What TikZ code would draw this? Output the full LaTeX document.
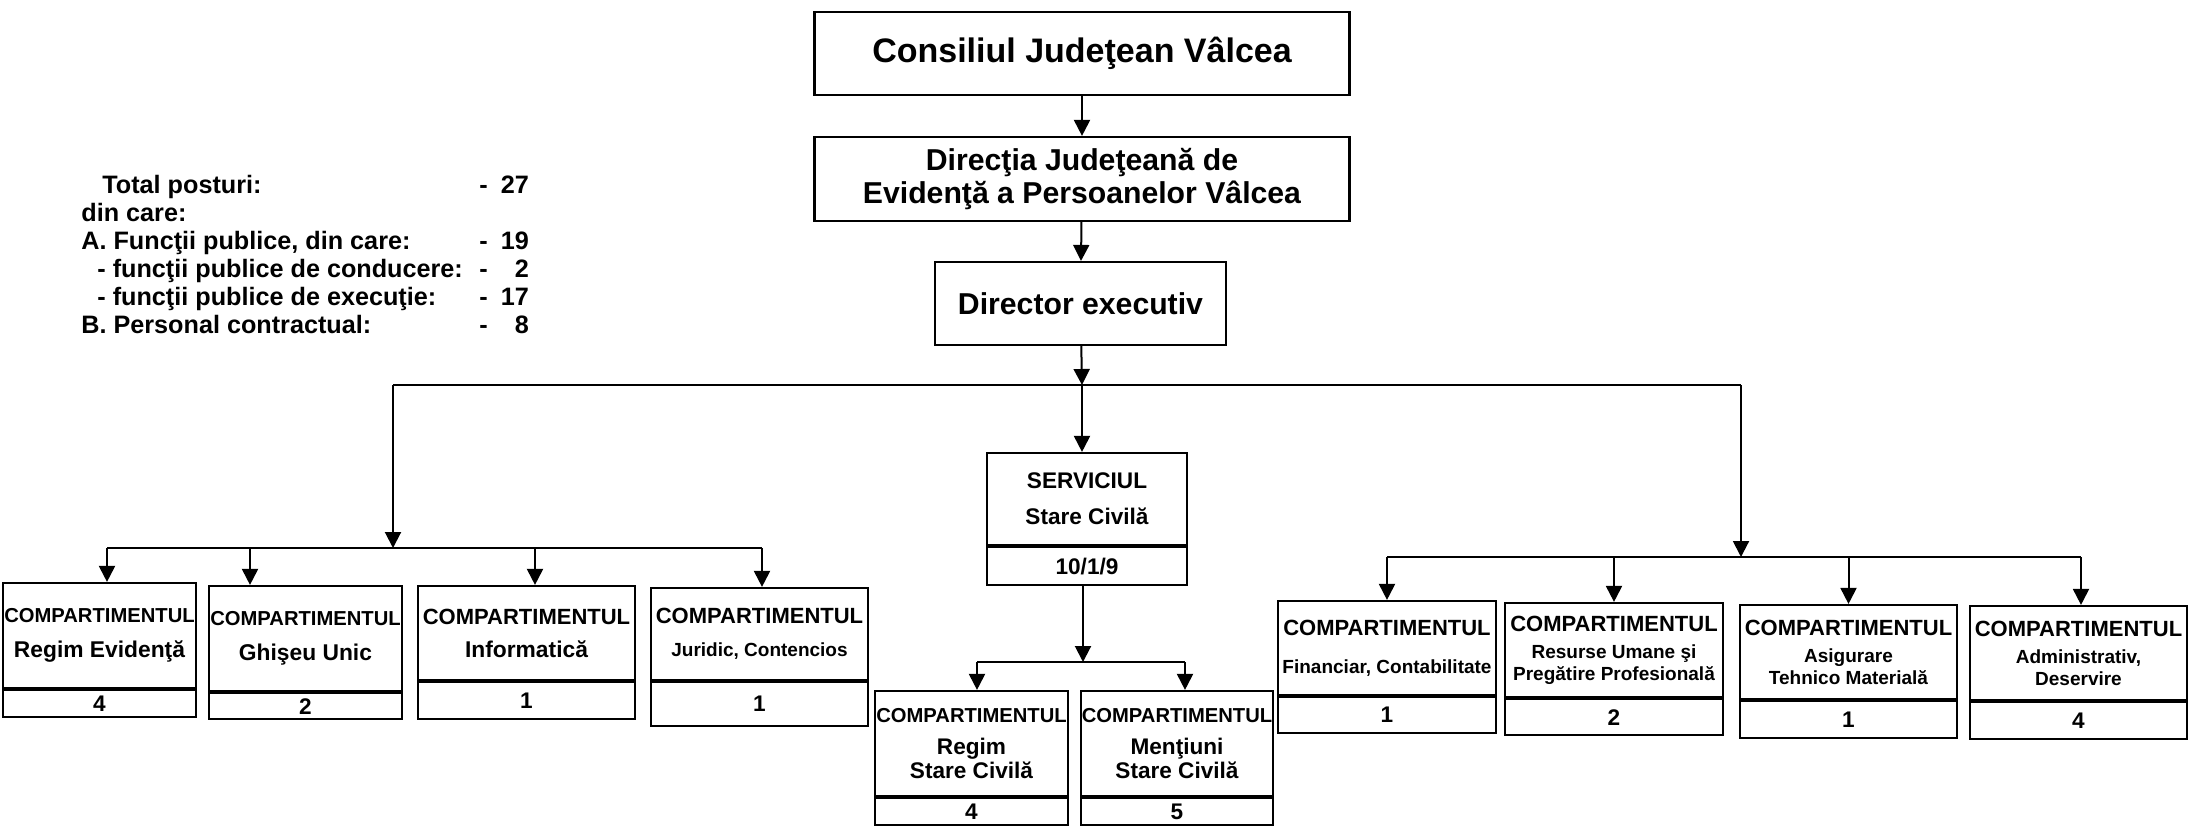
\documentclass[tikz,border=0pt]{standalone}
\usepackage{fontspec}
\setmainfont{Liberation Sans}
\usetikzlibrary{arrows.meta,positioning}

\newcommand{\titlefont}{\fontsize{17}{20}\selectfont}
\newcommand{\headfont}{\fontsize{15.1}{16.5}\selectfont}
\newcommand{\cmptsmall}{\fontsize{10.1}{12}\selectfont}
\newcommand{\cmptbig}{\fontsize{11}{13}\selectfont}
\newcommand{\deptfont}{\fontsize{11.4}{13}\selectfont}
\newcommand{\deptsmall}{\fontsize{9.5}{10.8}\selectfont}
\newcommand{\servfont}{\fontsize{11.3}{12}\selectfont}

\begin{document}
\begin{tikzpicture}[x=0.5pt,y=-0.5pt,
		box/.style={draw,line width=1.1pt,align=center,inner sep=0pt,font=\bfseries},
		nbox/.style={box,font=\bfseries\servfont},
		arr/.style={-{Triangle[length=8pt,width=8pt]},line width=1pt},
		conn/.style={line width=1pt}]
			\useasboundingbox (0,0) rectangle (2190,827);
			
			% legend
			\node[anchor=north west,inner sep=0pt,font=\bfseries\fontsize{12.6}{14}\selectfont] (posturi) at (81,173) {%
				\begin{tabular}{@{}p{199pt}@{}l@{\hspace{6.5pt}}r@{}}
					\hspace*{10.5pt}Total posturi: & - & 27\\
					din care: & & \\
					A. Funcţii publice, din care: & - & 19\\
					\hspace*{8pt}- funcţii publice de conducere: & - & 2\\
					\hspace*{8pt}- funcţii publice de execuţie: & - & 17\\
					B. Personal contractual: & - & 8
				\end{tabular}};
			
			% top of the chart
			\node[box,minimum width=267.5pt,minimum height=41.5pt,font=\bfseries\titlefont] (cons) at (1082,53.5) {Consiliul Judeţean Vâlcea};
			\node[box,minimum width=267.5pt,minimum height=42pt,font=\bfseries\headfont] (dir) at (1082,179) {Direcţia Judeţeană de\\Evidenţă a Persoanelor Vâlcea};
			\node[box,minimum width=145.5pt,minimum height=41.5pt,font=\bfseries\headfont] (exe) at (1080.5,303.5) {Director executiv};
			
			% serviciul stare civila
			\node[box,minimum width=100pt,minimum height=46pt,font=\bfseries\servfont] (serv) at (1087,499) {SERVICIUL\\[6pt]Stare Civilă};
			\node[nbox,minimum width=100pt,minimum height=19pt,below=0pt of serv] (servn) {10/1/9};
			\node[box,minimum width=96.5pt,minimum height=52.5pt,font=\bfseries\servfont] (s1) at (971.5,743.5) {\cmptsmall COMPARTIMENTUL\\[4pt]Regim\\Stare Civilă};
			\node[nbox,minimum width=96.5pt,minimum height=13.5pt,below=0pt of s1] (s1n) {4};
			\node[box,minimum width=96pt,minimum height=52.5pt,font=\bfseries\servfont] (s2) at (1177,743.5) {\cmptsmall COMPARTIMENTUL\\[4pt]Menţiuni\\Stare Civilă};
			\node[nbox,minimum width=96pt,minimum height=13.5pt,below=0pt of s2] (s2n) {5};
			
			% left group
			\node[box,minimum width=96.5pt,minimum height=52.5pt,font=\bfseries\deptfont] (l1) at (99.5,635.5) {\cmptsmall COMPARTIMENTUL\\[4.5pt]Regim Evidenţă};
			\node[nbox,minimum width=96.5pt,minimum height=13.5pt,below=0pt of l1] (l1n) {4};
			\node[box,minimum width=96.5pt,minimum height=52.5pt,font=\bfseries\deptfont] (l2) at (305.5,638.5) {\cmptsmall COMPARTIMENTUL\\[4.5pt]Ghişeu Unic};
			\node[nbox,minimum width=96.5pt,minimum height=13pt,below=0pt of l2] (l2n) {2};
			\node[box,minimum width=108.5pt,minimum height=47pt,font=\bfseries\deptfont] (l3) at (526.5,633) {\cmptbig COMPARTIMENTUL\\[3.5pt]Informatică};
			\node[nbox,minimum width=108.5pt,minimum height=18.5pt,below=0pt of l3] (l3n) {1};
			\node[box,minimum width=108.5pt,minimum height=46pt,font=\bfseries\deptsmall] (l4) at (759.5,634) {\cmptbig COMPARTIMENTUL\\[5.5pt]Juridic, Contencios};
			\node[nbox,minimum width=108.5pt,minimum height=22pt,below=0pt of l4] (l4n) {1};
			
			% right group
			\node[box,minimum width=109pt,minimum height=47pt,font=\bfseries\deptsmall] (r1) at (1387,648) {\cmptbig COMPARTIMENTUL\\[8pt]Financiar, Contabilitate};
			\node[nbox,minimum width=109pt,minimum height=18pt,below=0pt of r1] (r1n) {1};
			\node[box,minimum width=109pt,minimum height=47pt,font=\bfseries\deptsmall] (r2) at (1614,650) {\cmptbig COMPARTIMENTUL\\[3pt]Resurse Umane şi\\Pregătire Profesională};
			\node[nbox,minimum width=109pt,minimum height=18pt,below=0pt of r2] (r2n) {2};
			\node[box,minimum width=108.5pt,minimum height=47pt,font=\bfseries\deptsmall] (r3) at (1848.5,652) {\cmptbig COMPARTIMENTUL\\[3pt]Asigurare\\Tehnico Materială};
			\node[nbox,minimum width=108.5pt,minimum height=18.5pt,below=0pt of r3] (r3n) {1};
			\node[box,minimum width=108.5pt,minimum height=47pt,font=\bfseries\deptsmall] (r4) at (2078.5,653) {\cmptbig COMPARTIMENTUL\\[3pt]Administrativ,\\Deservire};
			\node[nbox,minimum width=108.5pt,minimum height=18.5pt,below=0pt of r4] (r4n) {4};
			
			% junction points
			\coordinate (jl) at (393,385);
			\coordinate (jc) at (1082,385);
			\coordinate (jr) at (1741,385);
			\coordinate (lb) at (393,548);
			\coordinate (lb1) at (107,548);
			\coordinate (lb2) at (250,548);
			\coordinate (lb3) at (535,548);
			\coordinate (lb4) at (762,548);
			\coordinate (rb) at (1741,557);
			\coordinate (rb1) at (1387,557);
			\coordinate (rb4) at (2081,557);
			\coordinate (sb) at (1083,662);
			\coordinate (sb1) at (977,662);
			\coordinate (sb2) at (1185,662);
			
			\draw[arr] (cons) -- (dir);
			\draw[arr] (dir) -- (exe);
			\draw[arr] (exe) -- (jc);
			\draw[conn] (jl) -- (jr);
			\draw[arr] (jc) -- (jc |- serv.north);
			\draw[arr] (jl) -- (lb);
			\draw[arr] (jr) -- (rb);
			
			\draw[conn] (lb1) -- (lb4);
			\draw[arr] (lb1) -- (lb1 |- l1.north);
			\draw[arr] (lb2) -- (lb2 |- l2.north);
			\draw[arr] (lb3) -- (lb3 |- l3.north);
			\draw[arr] (lb4) -- (lb4 |- l4.north);
			
			\draw[conn] (rb1) -- (rb4);
			\draw[arr] (r1 |- rb) -- (r1.north);
			\draw[arr] (r2 |- rb) -- (r2.north);
			\draw[arr] (r3 |- rb) -- (r3.north);
			\draw[arr] (rb4) -- (rb4 |- r4.north);
			
			\draw[arr] (sb |- servn.south) -- (sb);
			\draw[conn] (sb1) -- (sb2);
			\draw[arr] (sb1) -- (sb1 |- s1.north);
			\draw[arr] (sb2) -- (sb2 |- s2.north);
		\end{tikzpicture}
\end{document}
